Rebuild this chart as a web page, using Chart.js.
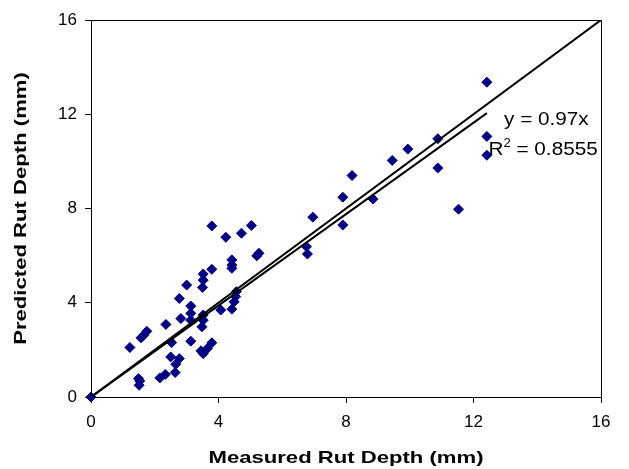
<!DOCTYPE html>
<html lang="en">
<head>
  <meta charset="UTF-8">
  <title>Predicted vs Measured Rut Depth</title>
  <script src="https://cdn.jsdelivr.net/npm/chart.js@4.4.0/dist/chart.umd.min.js"></script>
  <style>
    body { margin: 0; background: #fff; }
  </style>
</head>
<body>
  <canvas id="rutChart" width="629" height="469"></canvas>
  <script>
    // measured / predicted rut depth (mm)
    const measured = [0, 1.22, 1.57, 1.65, 1.75, 1.49, 1.51, 1.53, 2.16, 2.33, 2.64, 2.66, 2.77, 2.5, 2.53,
      2.35, 2.82, 2.77, 3.0, 3.13, 3.13, 3.13, 3.13, 3.48, 3.52, 3.52, 3.5, 3.52, 3.52, 3.79, 3.79,
      3.45, 3.52, 3.65, 3.79, 4.07, 4.23, 4.42, 4.42, 4.42, 4.42, 4.49, 4.54, 4.56, 4.72, 5.03, 5.2,
      5.27, 6.76, 6.79, 6.96, 7.9, 7.9, 8.19, 8.85, 9.45, 9.94, 10.88, 10.88, 11.53, 12.42, 12.42, 12.42];
    const predicted = [0, 2.1, 2.51, 2.62, 2.79, 0.78, 0.5, 0.68, 0.81, 0.96, 1.04, 1.39, 1.63, 1.7, 2.31,
      3.08, 3.33, 4.18, 4.75, 3.86, 3.55, 3.26, 2.37, 2.98, 3.48, 3.26, 4.65, 4.96, 5.22, 5.42, 7.26,
      1.96, 1.84, 2.06, 2.3, 3.69, 6.78, 5.82, 5.6, 5.46, 3.73, 4.04, 4.26, 4.47, 6.95, 7.28, 5.99,
      6.1, 6.38, 6.07, 7.63, 8.48, 7.3, 9.4, 8.4, 10.04, 10.52, 10.96, 9.72, 7.97, 13.36, 11.06, 10.26];

    const equalityX = [0, 16];
    const equalityY = [0, 16];
    const trendSlope = 0.97;
    const trendX = [0, 12.42];
    const trendY = trendX.map(x => x * trendSlope);
    const trendEq = 'y = 0.97x';
    const trendR2 = '0.8555';
    const axisTicks = [0, 4, 8, 12, 16];
    const xTitle = 'Measured Rut Depth (mm)';
    const yTitle = 'Predicted Rut Depth (mm)';

    const points = measured.map((m, i) => ({ x: m, y: predicted[i] }));

    const FONT = '"Liberation Sans", Arial, sans-serif';

    // text in the source image is a bit wider than the font, so stretch it a little
    function wideText(ctx, text, x, y, sx) {
      ctx.save();
      ctx.translate(x, y);
      ctx.scale(sx, 1);
      ctx.fillText(text, 0, 0);
      const w = ctx.measureText(text).width * sx;
      ctx.restore();
      return w;
    }

    const decorations = {
      id: 'decorations',
      beforeDatasetsDraw(chart) {
        const { ctx, chartArea: a } = chart;
        ctx.save();
        ctx.strokeStyle = '#000';
        ctx.lineWidth = 1;
        ctx.strokeRect(a.left + 0.5, a.top + 0.5, a.right - a.left, a.bottom - a.top);
        ctx.restore();
      },
      afterDatasetsDraw(chart) {
        const { ctx, chartArea: a, scales } = chart;
        ctx.save();
        ctx.fillStyle = '#000';
        ctx.textBaseline = 'alphabetic';
        ctx.textAlign = 'left';

        // trendline label
        ctx.font = '18px ' + FONT;
        wideText(ctx, trendEq, scales.x.getPixelForValue(12.96), scales.y.getPixelForValue(11.54), 1.15);
        const rx = scales.x.getPixelForValue(12.47);
        const ry = scales.y.getPixelForValue(10.25);
        let w = wideText(ctx, 'R', rx, ry, 1.15);
        ctx.font = '12px ' + FONT;
        w += wideText(ctx, '2', rx + w, ry - 8, 1.1);
        ctx.font = '18px ' + FONT;
        wideText(ctx, ' = ' + trendR2, rx + w, ry, 1.15);

        // axis titles
        ctx.font = 'bold 17px ' + FONT;
        ctx.textAlign = 'center';
        wideText(ctx, xTitle, (a.left + a.right) / 2, 463, 1.3);

        ctx.save();
        ctx.translate(26, (a.top + a.bottom) / 2);
        ctx.rotate(-Math.PI / 2);
        wideText(ctx, yTitle, 0, 0, 1.3);
        ctx.restore();

        ctx.restore();
      }
    };

    const tickFont = { family: FONT, size: 17 };

    new Chart(document.getElementById('rutChart').getContext('2d'), {
      type: 'scatter',
      data: {
        datasets: [
          {
            label: 'Data',
            data: points,
            pointStyle: 'rectRot',
            pointRadius: 5,
            backgroundColor: '#000080',
            borderColor: '#000080',
            borderWidth: 1,
            clip: false,
            order: 2
          },
          {
            label: 'Line of equality',
            type: 'line',
            data: equalityX.map((x, i) => ({ x, y: equalityY[i] })),
            borderColor: '#000',
            borderWidth: 2,
            pointRadius: 0,
            order: 1
          },
          {
            label: 'Trend',
            type: 'line',
            data: trendX.map((x, i) => ({ x, y: trendY[i] })),
            borderColor: '#000',
            borderWidth: 2,
            pointRadius: 0,
            order: 1
          }
        ]
      },
      options: {
        responsive: false,
        animation: false,
        layout: { padding: { top: 20, right: 28, left: 0, bottom: 0 } },
        plugins: { legend: { display: false }, tooltip: { enabled: false } },
        scales: {
          x: {
            type: 'linear',
            min: 0, max: 16,
            afterBuildTicks: s => { s.ticks = axisTicks.map(v => ({ value: v })); },
            afterFit: s => { s.height = 72; },
            ticks: { color: '#000', font: tickFont, padding: 9, maxRotation: 0 },
            grid: { drawOnChartArea: false, tickLength: 6, color: '#000' },
            border: { color: '#000', width: 1 }
          },
          y: {
            type: 'linear',
            min: 0, max: 16,
            afterBuildTicks: s => { s.ticks = axisTicks.map(v => ({ value: v })); },
            afterFit: s => { s.width = 91; },
            ticks: { color: '#000', font: tickFont, padding: 8 },
            grid: { drawOnChartArea: false, tickLength: 6, color: '#000' },
            border: { color: '#000', width: 1 }
          }
        }
      },
      plugins: [decorations]
    });
  </script>
</body>
</html>
